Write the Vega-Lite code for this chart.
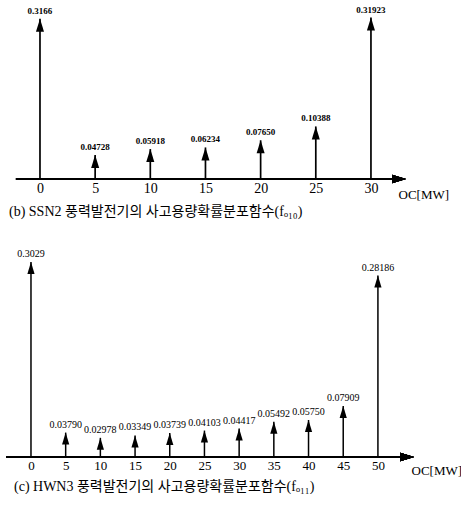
{
  "$schema": "https://vega.github.io/schema/vega-lite/v6.json",
  "background": "white",
  "padding": {"left": 5, "top": 5, "right": 0, "bottom": 0},
  "spacing": 30,
  "config": {
    "view": {"stroke": null},
    "axis": {"labelFont": "Liberation Serif", "titleFont": "Liberation Serif", "labelColor": "black", "titleColor": "black", "titleFontWeight": "normal"},
    "title": {"font": "Liberation Serif, Noto Sans CJK KR", "fontWeight": "normal", "color": "black", "fontSize": 14}
  },
  "datasets": {
    "b": [
      {"oc": 0, "p": 0.3166, "label": "0.3166"},
      {"oc": 5, "p": 0.04728, "label": "0.04728"},
      {"oc": 10, "p": 0.05918, "label": "0.05918"},
      {"oc": 15, "p": 0.06234, "label": "0.06234"},
      {"oc": 20, "p": 0.0765, "label": "0.07650"},
      {"oc": 25, "p": 0.10388, "label": "0.10388"},
      {"oc": 30, "p": 0.31923, "label": "0.31923"}
    ],
    "c": [
      {"oc": 0, "p": 0.3029, "label": "0.3029"},
      {"oc": 5, "p": 0.0379, "label": "0.03790"},
      {"oc": 10, "p": 0.02978, "label": "0.02978"},
      {"oc": 15, "p": 0.03349, "label": "0.03349"},
      {"oc": 20, "p": 0.03739, "label": "0.03739"},
      {"oc": 25, "p": 0.04103, "label": "0.04103"},
      {"oc": 30, "p": 0.04417, "label": "0.04417"},
      {"oc": 35, "p": 0.05492, "label": "0.05492"},
      {"oc": 40, "p": 0.0575, "label": "0.05750"},
      {"oc": 45, "p": 0.07909, "label": "0.07909"},
      {"oc": 50, "p": 0.28186, "label": "0.28186"}
    ]
  },
  "vconcat": [
    {
      "width": 405,
      "height": 172,
      "data": {"name": "b"},
      "title": {"text": "(b) SSN2 풍력발전기의 사고용량확률분포함수(fₒ₁₀)", "orient": "bottom", "anchor": "start", "frame": "group", "offset": 4, "dx": 3},
      "layer": [
        {
          "mark": {"type": "rule", "color": "black", "strokeWidth": 1.5},
          "encoding": {
            "x": {"datum": -2.18, "type": "quantitative", "scale": {"domain": [-3.08, 33.63], "nice": false, "zero": false},
              "axis": {"values": [0, 5, 10, 15, 20, 25, 30], "domain": false, "ticks": false, "grid": false, "labelFontSize": 14, "labelPadding": 2, "title": "OC[MW]", "titleFontSize": 13, "titleX": 392, "titleY": 15, "titleAlign": "left", "titleBaseline": "middle"}},
            "x2": {"datum": 33.0},
            "y": {"datum": 0, "type": "quantitative", "scale": {"domain": [0, 0.34], "nice": false}, "axis": null}
          }
        },
        {
          "mark": {"type": "point", "shape": "M1,0L-1,-0.6L-1,0.6Z", "filled": true, "color": "black", "opacity": 1, "size": 196, "xOffset": -7},
          "encoding": {
            "x": {"datum": 33.18, "type": "quantitative"},
            "y": {"datum": 0, "type": "quantitative"}
          }
        },
        {
          "mark": {"type": "rule", "color": "black", "strokeWidth": 1.7},
          "encoding": {
            "x": {"field": "oc", "type": "quantitative"},
            "y": {"field": "p", "type": "quantitative"},
            "y2": {"datum": 0}
          }
        },
        {
          "mark": {"type": "point", "shape": "M0,-1L0.62,1L-0.62,1Z", "filled": true, "color": "black", "opacity": 1, "size": 169, "yOffset": 6.5},
          "encoding": {
            "x": {"field": "oc", "type": "quantitative"},
            "y": {"field": "p", "type": "quantitative"}
          }
        },
        {
          "mark": {"type": "text", "font": "Liberation Serif", "fontSize": 9, "fontWeight": "bold", "baseline": "bottom", "dy": -3, "color": "black"},
          "encoding": {
            "x": {"field": "oc", "type": "quantitative"},
            "y": {"field": "p", "type": "quantitative"},
            "text": {"field": "label"}
          }
        }
      ]
    },
    {
      "width": 408,
      "height": 206,
      "data": {"name": "c"},
      "title": {"text": "(c) HWN3 풍력발전기의 사고용량확률분포함수(fₒ₁₁)", "orient": "bottom", "anchor": "start", "frame": "group", "offset": 3, "dx": 8},
      "layer": [
        {
          "mark": {"type": "rule", "color": "black", "strokeWidth": 1.5},
          "encoding": {
            "x": {"datum": -3.6, "type": "quantitative", "scale": {"domain": [-3.6, 55.2], "nice": false, "zero": false},
              "axis": {"values": [0, 5, 10, 15, 20, 25, 30, 35, 40, 45, 50], "domain": false, "ticks": false, "grid": false, "labelFontSize": 13, "labelPadding": 2, "title": "OC[MW]", "titleFontSize": 13, "titleX": 405, "titleY": 13, "titleAlign": "left", "titleBaseline": "middle"}},
            "x2": {"datum": 55.0},
            "y": {"datum": 0, "type": "quantitative", "scale": {"domain": [0, 0.32], "nice": false}, "axis": null}
          }
        },
        {
          "mark": {"type": "point", "shape": "M1,0L-1,-0.6L-1,0.6Z", "filled": true, "color": "black", "opacity": 1, "size": 196, "xOffset": -7},
          "encoding": {
            "x": {"datum": 55.2, "type": "quantitative"},
            "y": {"datum": 0, "type": "quantitative"}
          }
        },
        {
          "mark": {"type": "rule", "color": "black", "strokeWidth": 1.5},
          "encoding": {
            "x": {"field": "oc", "type": "quantitative"},
            "y": {"field": "p", "type": "quantitative"},
            "y2": {"datum": 0}
          }
        },
        {
          "mark": {"type": "point", "shape": "M0,-1L0.6,1L-0.6,1Z", "filled": true, "color": "black", "opacity": 1, "size": 144, "yOffset": 6},
          "encoding": {
            "x": {"field": "oc", "type": "quantitative"},
            "y": {"field": "p", "type": "quantitative"}
          }
        },
        {
          "mark": {"type": "text", "font": "Liberation Serif", "fontSize": 10, "baseline": "bottom", "dy": -3, "color": "black"},
          "encoding": {
            "x": {"field": "oc", "type": "quantitative"},
            "y": {"field": "p", "type": "quantitative"},
            "text": {"field": "label"}
          }
        }
      ]
    }
  ]
}
